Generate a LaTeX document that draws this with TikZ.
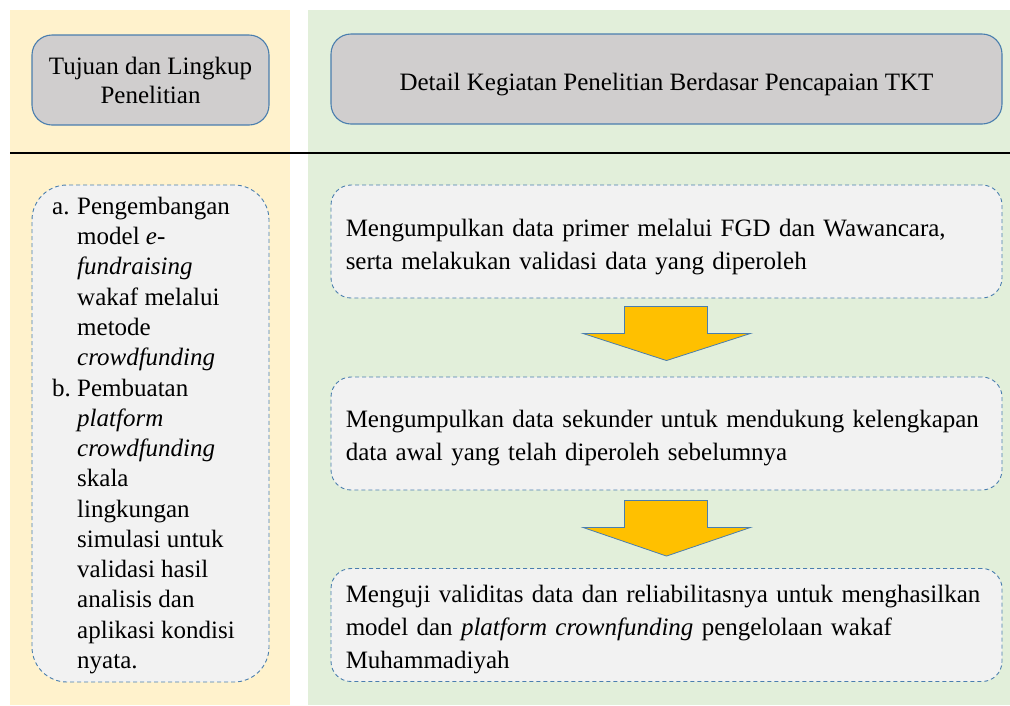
\documentclass[tikz,border=0pt]{standalone}
\usepackage{fontspec}
\setmainfont{Liberation Serif}
\usetikzlibrary{calc}
\definecolor{panelyellow}{HTML}{FFF2CC}
\definecolor{panelgreen}{HTML}{E2EFDA}
\definecolor{headgray}{HTML}{D0CECE}
\definecolor{boxgray}{HTML}{F2F2F2}
\definecolor{edgeblue}{HTML}{4A7EAE}
\definecolor{arrowgold}{HTML}{FFC000}
\begin{document}
\begin{tikzpicture}[x=1pt,y=-1pt,
  headbox/.style={draw=edgeblue, line width=1.1pt, fill=headgray, rounded corners=20pt,
    minimum height=90pt, align=center, font=\fontsize{25}{29}\selectfont, inner sep=0pt},
  stepbox/.style={draw=edgeblue, line width=0.9pt, dash pattern=on 4pt off 3pt, fill=boxgray,
    rounded corners=20pt, minimum width=671pt, minimum height=113pt, inner sep=0pt},
  steptext/.style={anchor=west, inner sep=0pt, text width=641pt, align=left,
    font=\fontsize{25}{33}\selectfont},
  blockarrow/.style={draw=edgeblue, line width=0.8pt, fill=arrowgold, line join=miter}]

% panels
\useasboundingbox (0,0) rectangle (1010,705);
\fill[white] (0,0) rectangle (1010,705);
\fill[panelyellow] (10,10) rectangle (290,705);
\fill[panelgreen] (308,10) rectangle (1010,705);
\draw[line width=2.6pt, black] (10,153) -- (1010,153);

% column headings
\node[headbox, minimum width=237pt] (h1) at (150.5,80) {Tujuan dan Lingkup\\Penelitian};
\node[headbox, minimum width=671pt, text height=22pt, text depth=0pt] (h2) at (666.5,79)
  {Detail Kegiatan Penelitian Berdasar Pencapaian TKT};

% scope list
\node[draw=edgeblue, line width=0.9pt, dash pattern=on 4pt off 3pt, fill=boxgray,
  rounded corners=35pt, minimum width=237pt, minimum height=497pt, inner sep=0pt]
  (scope) at (150.5,433.5) {};
\node[anchor=north west, inner sep=0pt, font=\fontsize{25}{30.27}\selectfont] (scopetext) at (52,193)
  {\begin{tabular}{@{}p{25pt}@{}l@{}}
   a. & Pengembangan\\
      & model \textit{e-}\\
      & \textit{fundraising}\\
      & wakaf melalui\\
      & metode\\
      & \textit{crowdfunding}\\
   b. & Pembuatan\\
      & \textit{platform}\\
      & \textit{crowdfunding}\\
      & skala\\
      & lingkungan\\
      & simulasi untuk\\
      & validasi hasil\\
      & analisis dan\\
      & aplikasi kondisi\\
      & nyata.
  \end{tabular}};

% activity steps
\node[stepbox] (s1) at (666.5,241.5) {};
\node[stepbox] (s2) at (666.5,433.5) {};
\node[stepbox] (s3) at (666.5,625) {};
\node[steptext] (t1) at ($(s1.west)+(15,6)$) {Mengumpulkan data primer melalui FGD dan Wawancara,\\serta melakukan validasi data yang diperoleh};
\node[steptext] (t2) at ($(s2.west)+(15,5)$) {Mengumpulkan data sekunder untuk mendukung kelengkapan\\data awal yang telah diperoleh sebelumnya};
\node[steptext] (t3) at ($(s3.west)+(15,5)$) {Menguji validitas data dan reliabilitasnya untuk menghasilkan\\model dan \textit{platform crownfunding} pengelolaan wakaf\\Muhammadiyah};

% block arrows between steps
\draw[blockarrow] ($(s1.south)+(-42,8)$) -- ++(83,0) -- ++(0,27) -- ++(43,0)
  -- ($(s2.north)+(0,-16)$) -- ($(s1.south)+(-83.5,35)$) -- ++(41.5,0) -- cycle;
\draw[blockarrow] ($(s2.south)+(-42,10)$) -- ++(83,0) -- ++(0,27) -- ++(43,0)
  -- ($(s3.north)+(0,-12)$) -- ($(s2.south)+(-83.5,37)$) -- ++(41.5,0) -- cycle;
\end{tikzpicture}
\end{document}
